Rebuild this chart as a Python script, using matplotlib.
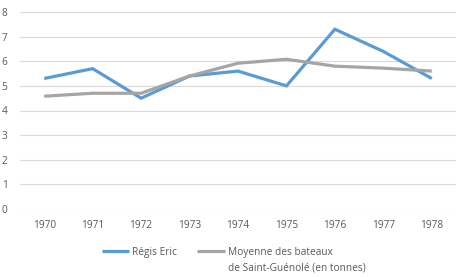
import matplotlib
matplotlib.use("Agg")
import matplotlib.pyplot as plt
from matplotlib.lines import Line2D

years = ["1970", "1971", "1972", "1973", "1974", "1975", "1976", "1977", "1978"]
regis = [5.3, 5.7, 4.5, 5.4, 5.6, 5.0, 7.3, 6.4, 5.3]
moyenne = [4.58, 4.7, 4.7, 5.4, 5.92, 6.08, 5.8, 5.72, 5.6]
labels = ["Régis Eric", "Moyenne des bateaux", "de Saint-Guénolé (en tonnes)"]
yticks = [0, 1, 2, 3, 4, 5, 6, 7, 8]

plt.rcParams['font.family'] = ['Open Sans', 'DejaVu Sans']
txt = "#595959"
blue = "#5B9BD5"
gray = "#A5A5A5"
fs = 7.3

W, H = 463, 277
fig = plt.figure(figsize=(W / 100, H / 100), dpi=100)
ax = fig.add_axes([20 / W, 1 - 209 / H, 436 / W, 197 / H])

x = list(range(len(years)))
ax.plot(x, regis, color=blue, lw=2.3, solid_capstyle="butt", solid_joinstyle="miter")
ax.plot(x, moyenne, color=gray, lw=2.3, solid_capstyle="butt", solid_joinstyle="miter")

ax.set_xlim(-0.5, len(years) - 0.5)
ax.set_ylim(0, 8)
ax.set_yticks(yticks)
ax.set_xticks(x)
ax.set_xticklabels(years)
ax.grid(axis="y", color="#D9D9D9", lw=0.8)
ax.set_axisbelow(True)
for s in ax.spines.values():
    s.set_visible(False)
ax.tick_params(length=0, labelsize=fs, colors=txt)
ax.tick_params(axis="x", pad=8)
ax.tick_params(axis="y", pad=9)

# legend drawn manually (handle aligned with first text line, as in the reference)
def fx(px):
    return px / W

def fy(py):
    return 1 - py / H

fig.add_artist(Line2D([fx(102), fx(129)], [fy(250.5), fy(250.5)], color=blue, lw=2.3,
                      solid_capstyle="butt", transform=fig.transFigure))
fig.text(fx(132), fy(251), labels[0], fontsize=fs, color=txt, ha="left", va="center_baseline")
fig.add_artist(Line2D([fx(197), fx(225)], [fy(250.5), fy(250.5)], color=gray, lw=2.3,
                      solid_capstyle="butt", transform=fig.transFigure))
fig.text(fx(228), fy(251), labels[1], fontsize=fs, color=txt, ha="left", va="center_baseline")
fig.text(fx(228), fy(266.5), labels[2], fontsize=fs, color=txt, ha="left", va="center_baseline")

fig.savefig("out.png", dpi=100, facecolor="white")
